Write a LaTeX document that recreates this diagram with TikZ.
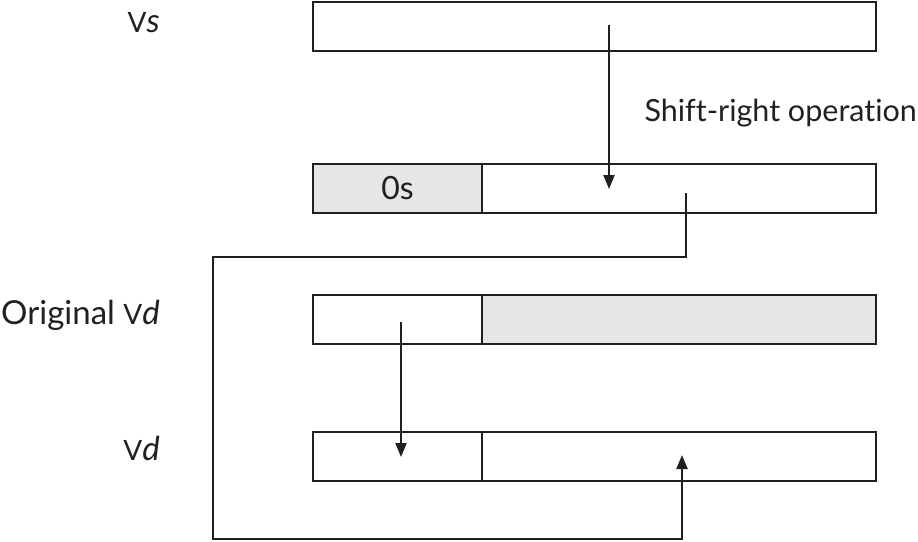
\documentclass[tikz,border=0pt]{standalone}
\usepackage{fontspec}
\setmainfont{Lato}[Ligatures={NoCommon}, RawFeature={-liga;-dlig}]
\usetikzlibrary{arrows.meta, positioning}

\definecolor{inkgray}{HTML}{231F20}
\definecolor{fillgray}{HTML}{E6E6E7}

\tikzstyle{register} = [rectangle, minimum height=49pt, inner sep=0pt, outer sep=0pt, draw=inkgray, line width=2.4pt, fill=white]
\tikzstyle{wholereg} = [register, minimum width=563pt]
\tikzstyle{lowreg} = [register, minimum width=169pt]
\tikzstyle{highreg} = [register, minimum width=394pt]
\tikzstyle{zeroed} = [fill=fillgray, text=inkgray, font=\fontsize{32}{36}\selectfont]
\tikzstyle{regtext} = [inner sep=0pt, text=inkgray, font=\fontsize{33}{40}\selectfont]
\tikzstyle{arrow} = [line width=2.2pt, draw=inkgray, -{Triangle[length=14pt, width=11pt]}]

\newcommand{\regname}[1]{{\fontsize{28}{30}\selectfont V}\textit{#1}}

\begin{document}
\begin{tikzpicture}[x=1pt, y=-1pt]

        \useasboundingbox (0,0) rectangle (918,541);

        % Nodes for the registers
        \node (vs) [wholereg, anchor=north west] at (313,2) {};
        \node (shiftedLow) [lowreg, zeroed, anchor=north west] at (313,164) {0s};
        \node (shiftedHigh) [highreg, right=0pt of shiftedLow] {};
        \node (origLow) [lowreg, anchor=north west] at (313,295) {};
        \node (origHigh) [highreg, zeroed, right=0pt of origLow] {};
        \node (vdLow) [lowreg, anchor=north west] at (313,432) {};
        \node (vdHigh) [highreg, right=0pt of vdLow] {};

        % Nodes for the names (aligned right)
        \node (vsName) [regtext, anchor=base east] at (160,32) {\regname{s}};
        \node (origName) [regtext, anchor=base east] at (160,324) {Original \regname{d}};
        \node (vdName) [regtext, anchor=base east] at (160,460) {\regname{d}};
        \node (opName) [regtext, anchor=base east, font=\fontsize{30.5}{34}\selectfont] at (917,121) {Shift-right operation};

        % Ends of the arrows
        \coordinate (shiftFrom) at (609,25);
        \coordinate (shiftTo) at (609,189);
        \coordinate (keepFrom) at (401,322);
        \coordinate (keepTo) at (401,457);
        \coordinate (wrapFrom) at (686,193);
        \coordinate (wrapLeft) at (213,257);
        \coordinate (wrapBottom) at (213,539);
        \coordinate (wrapTo) at (682,455);

        % Arrows
        \draw [arrow] (shiftFrom) -- (shiftTo);
        \draw [arrow] (keepFrom) -- (keepTo);
        \draw [arrow] (wrapFrom) |- (wrapLeft) -- (wrapBottom) -| (wrapTo);

    \end{tikzpicture}
\end{document}
